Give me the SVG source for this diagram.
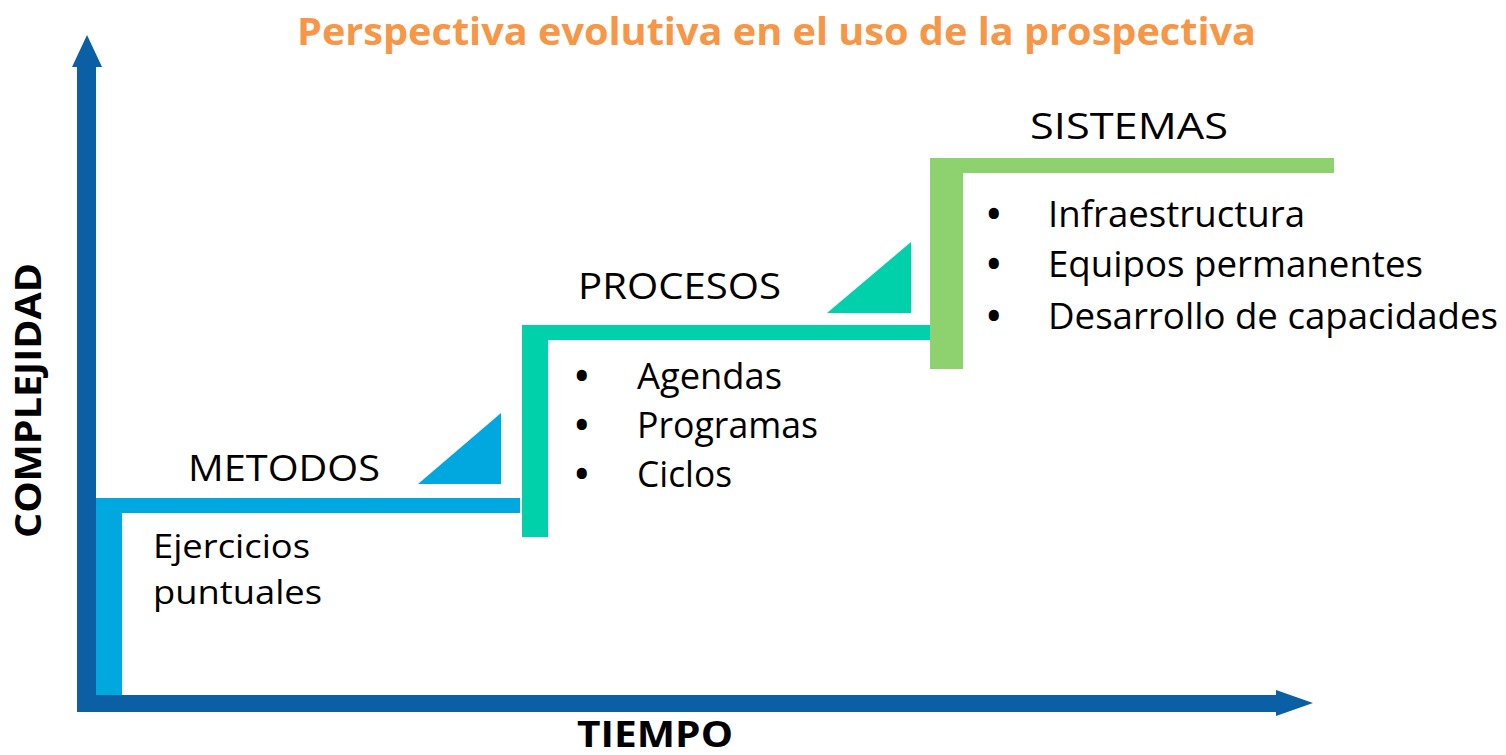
<svg xmlns="http://www.w3.org/2000/svg" width="1506" height="755" viewBox="0 0 1506 755">
<style>
.lbl{font-family:"Open Sans","Liberation Sans",sans-serif;font-size:36px;fill:#000}
.sm{font-family:"Open Sans","Liberation Sans",sans-serif;font-size:33px;fill:#000}
.bold{font-family:"Open Sans","Liberation Sans",sans-serif;font-weight:bold;font-size:36px;fill:#000}
.title{font-family:"Open Sans","Liberation Sans",sans-serif;font-weight:bold;font-size:38px;fill:#f79646}
.bul{font-weight:bold}
.axis{fill:#0b5fa5}
</style>
<rect width="1506" height="755" fill="#fff"/>
<text class="title" x="297" y="45" textLength="959" lengthAdjust="spacingAndGlyphs">Perspectiva evolutiva en el uso de la prospectiva</text>
<g id="connectors">
  <g id="axis-y">
    <rect class="axis" x="77" y="66" width="19" height="646"/>
    <polygon class="axis" points="72,67 102,67 87,35"/>
  </g>
  <g id="axis-x">
    <rect class="axis" x="77" y="695" width="1200" height="17"/>
    <polygon class="axis" points="1276,690 1276,716 1313,703"/>
  </g>
</g>
<g id="metodos">
  <polygon fill="#00a8e0" points="96,498 520,498 520,513 122,513 122,695 96,695"/>
  <polygon fill="#00a8e0" points="418,484 501,484 501,413"/>
  <text class="lbl" x="188" y="481" textLength="192" lengthAdjust="spacingAndGlyphs">METODOS</text>
  <text class="sm" x="153" y="558" textLength="157" lengthAdjust="spacingAndGlyphs">Ejercicios</text>
  <text class="sm" x="153" y="604" textLength="169" lengthAdjust="spacingAndGlyphs">puntuales</text>
</g>
<g id="procesos">
  <polygon fill="#00d1aa" points="522,325 930,325 930,340 548,340 548,537 522,537"/>
  <polygon fill="#00d1aa" points="827,313 911,313 911,242"/>
  <text class="lbl" x="578" y="299" textLength="203" lengthAdjust="spacingAndGlyphs">PROCESOS</text>
  <text class="lbl" y="389"><tspan class="bul" x="575">•</tspan><tspan x="637" textLength="145" lengthAdjust="spacingAndGlyphs">Agendas</tspan></text>
  <text class="lbl" y="438"><tspan class="bul" x="575">•</tspan><tspan x="637" textLength="181" lengthAdjust="spacingAndGlyphs">Programas</tspan></text>
  <text class="lbl" y="487"><tspan class="bul" x="575">•</tspan><tspan x="637" textLength="95" lengthAdjust="spacingAndGlyphs">Ciclos</tspan></text>
</g>
<g id="sistemas">
  <polygon fill="#8ed16f" points="930,158 1334,158 1334,173 963,173 963,369 930,369"/>
  <text class="lbl" x="1030" y="139" textLength="198" lengthAdjust="spacingAndGlyphs">SISTEMAS</text>
  <text class="lbl" y="227"><tspan class="bul" x="987">•</tspan><tspan x="1048" textLength="257" lengthAdjust="spacingAndGlyphs">Infraestructura</tspan></text>
  <text class="lbl" y="277"><tspan class="bul" x="987">•</tspan><tspan x="1048" textLength="375" lengthAdjust="spacingAndGlyphs">Equipos permanentes</tspan></text>
  <text class="lbl" y="329"><tspan class="bul" x="987">•</tspan><tspan x="1048" textLength="450" lengthAdjust="spacingAndGlyphs">Desarrollo de capacidades</tspan></text>
</g>
<g id="axis-labels">
  <text class="bold" transform="translate(41,538) rotate(-90)" textLength="275" lengthAdjust="spacingAndGlyphs">COMPLEJIDAD</text>
  <text class="bold" x="577" y="747" textLength="156" lengthAdjust="spacingAndGlyphs">TIEMPO</text>
</g>
</svg>
